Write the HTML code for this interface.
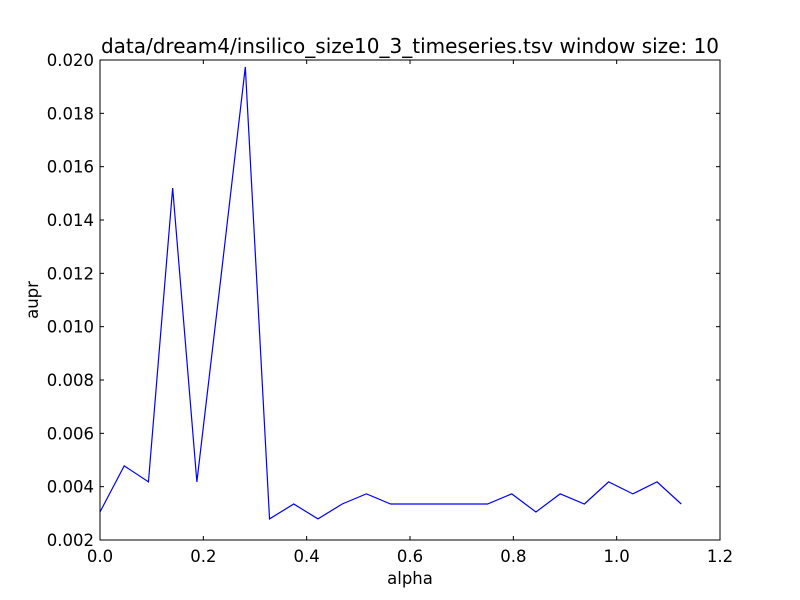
<!DOCTYPE html>
<html><head><meta charset="utf-8">
<style>
html,body{margin:0;padding:0;background:#fff;}
svg{display:block;font-family:"DejaVu Sans","Liberation Sans",sans-serif;}
</style></head>
<body>
<svg id="chart" width="800" height="600" xmlns="http://www.w3.org/2000/svg">
<rect x="0" y="0" width="800" height="600" fill="#fff"/>
<text x="410" y="53" text-anchor="middle" font-size="20">data/dream4/insilico_size10_3_timeseries.tsv window size: 10</text>
<text x="410" y="584" text-anchor="middle" font-size="16.5">alpha</text>
<text transform="translate(38,300) rotate(-90)" text-anchor="middle" font-size="16.5">aupr</text>
<g id="ticks"></g>
<g id="series"></g>
<rect x="100" y="60" width="620" height="480" fill="none" stroke="#000" stroke-width="1"/>
</svg>
<script>
const xTicks = [0, 0.2, 0.4, 0.6, 0.8, 1.0, 1.2];
const xTickLabels = ["0.0","0.2","0.4","0.6","0.8","1.0","1.2"];
const yTicks = [0.002,0.004,0.006,0.008,0.010,0.012,0.014,0.016,0.018,0.020];
const yTickLabels = ["0.002","0.004","0.006","0.008","0.010","0.012","0.014","0.016","0.018","0.020"];
const alphaValues = [0,0.046875,0.09375,0.140625,0.1875,0.234375,0.28125,0.328125,0.375,0.421875,0.46875,0.515625,0.5625,0.609375,0.65625,0.703125,0.75,0.796875,0.84375,0.890625,0.9375,0.984375,1.03125,1.078125,1.125];
const auprValues = [0.00305,0.00478,0.00418,0.0152,0.00418,0.0119,0.01974,0.00279,0.00335,0.00279,0.00335,0.00373,0.00335,0.00335,0.00335,0.00335,0.00335,0.00373,0.00305,0.00373,0.00335,0.00418,0.00373,0.00418,0.00335];

const NS = "http://www.w3.org/2000/svg";
const X0=100,X1=720,Y0=540,Y1=60;
function xs(v){return X0+(v-0)/(1.2-0)*(X1-X0);}
function ys(v){return Y0-(v-0.002)/(0.020-0.002)*(Y0-Y1);}
const tg=document.getElementById('ticks');
function mk(tag,attrs){const e=document.createElementNS(NS,tag);for(const k in attrs)e.setAttribute(k,attrs[k]);return e;}
xTicks.forEach((t,i)=>{
  const x=xs(t);
  const a=mk('line',{x1:x,x2:x,y1:Y0,y2:Y0-4,stroke:'#000'});
  
  
  tg.appendChild(a);
  const b=mk('line',{x1:x,x2:x,y1:Y1,y2:Y1+4,stroke:'#000'});
  
  
  tg.appendChild(b);
  const l=mk('text',{x:x,y:Y0+22,'text-anchor':'middle','font-size':'16.5'});
  l.textContent=xTickLabels[i];
  
  
  tg.appendChild(l);
});
yTicks.forEach((t,i)=>{
  const y=ys(t);
  const a=mk('line',{x1:X0,x2:X0+4,y1:y,y2:y,stroke:'#000'});
  
  
  tg.appendChild(a);
  const b=mk('line',{x1:X1,x2:X1-4,y1:y,y2:y,stroke:'#000'});
  
  
  tg.appendChild(b);
  const l=mk('text',{x:X0-6,y:y+6,'text-anchor':'end','font-size':'16.5'});
  l.textContent=yTickLabels[i];
  
  
  tg.appendChild(l);
});
const pts=alphaValues.map((a,i)=>xs(a).toFixed(2)+','+ys(auprValues[i]).toFixed(2)).join(' ');
const pl=mk('polyline',{points:pts,fill:'none',stroke:'#0000ff','stroke-width':'1.2'});


document.getElementById('series').appendChild(pl);
</script>
</body></html>
